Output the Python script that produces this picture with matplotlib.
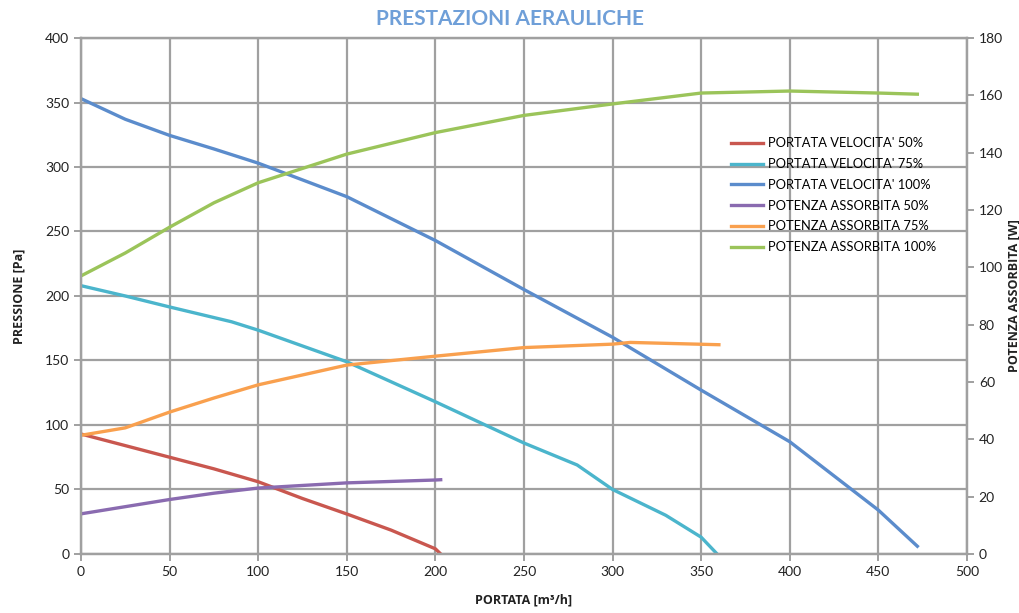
#grafico prestazioni aerauliche
import matplotlib
matplotlib.use('Agg')
import matplotlib.pyplot as plt

plt.rcParams['font.family'] = ['Lato', 'DejaVu Sans']

#dati
x_v50 = [0, 25, 50, 75, 100, 125, 150, 175, 200, 203]
p_v50 = [93, 84, 75, 66, 56, 43, 31, 18.5, 4, 0]

x_v75 = [0, 25, 50, 85, 100, 150, 200, 250, 280, 300, 330, 350, 359]
p_v75 = [208, 200, 191.5, 180, 173.5, 149, 118, 86, 69, 50, 30, 13, 0]

x_v100 = [0, 25, 50, 75, 100, 150, 200, 250, 300, 350, 400, 450, 472]
p_v100 = [353, 337, 324.5, 314, 303, 277, 243, 205, 168, 127, 87, 34, 6]

x_a50 = [0, 25, 50, 75, 100, 150, 200, 203]
w_a50 = [14, 16.5, 19, 21.2, 23, 24.8, 25.8, 25.9]

x_a75 = [0, 25, 50, 75, 100, 150, 200, 250, 300, 310, 360]
w_a75 = [41.4, 44, 49.5, 54.4, 59, 65.9, 69, 72, 73.2, 73.8, 73]

x_a100 = [0, 25, 50, 75, 100, 150, 200, 250, 300, 350, 400, 450, 472]
w_a100 = [97, 105, 114, 122.5, 129.5, 139.5, 147, 153, 157, 160.8, 161.5, 160.8, 160.4]

etichette = ["PORTATA VELOCITA' 50%", "PORTATA VELOCITA' 75%", "PORTATA VELOCITA' 100%",
             "POTENZA ASSORBITA 50%", "POTENZA ASSORBITA 75%", "POTENZA ASSORBITA 100%"]
colori = ['#c9574f', '#4bb5cc', '#5b8ccc', '#8a6bb0', '#f9a04e', '#9bc45a']

grigio = '#a0a0a0'
font_lab = ['Open Sans', 'DejaVu Sans']

fig = plt.figure(figsize=(10.2, 6.13), dpi=100)
ax = fig.add_axes([0.0794, 0.0963, 0.8686, 0.8417])
ax2 = ax.twinx()

lw = 2.4
linee = []
linee += ax.plot(x_v50, p_v50, color=colori[0], lw=lw)
linee += ax.plot(x_v75, p_v75, color=colori[1], lw=lw)
linee += ax.plot(x_v100, p_v100, color=colori[2], lw=lw)
linee += ax2.plot(x_a50, w_a50, color=colori[3], lw=lw)
linee += ax2.plot(x_a75, w_a75, color=colori[4], lw=lw)
linee += ax2.plot(x_a100, w_a100, color=colori[5], lw=lw)

#assi
ax.set_xlim(0, 500)
ax.set_ylim(0, 400)
ax2.set_ylim(0, 180)
ax.set_xticks(range(0, 501, 50))
ax.set_yticks(range(0, 401, 50))
ax2.set_yticks(range(0, 181, 20))
ax.grid(True, color=grigio, lw=1.6)
ax.set_axisbelow(True)

for a in (ax, ax2):
    for s in a.spines.values():
        s.set_color(grigio)
        s.set_linewidth(1.6)
    a.tick_params(colors=grigio, labelcolor='#222222', labelsize=10, width=1.4, length=5)

ax.set_xlabel('PORTATA [m³/h]', fontsize=9, fontweight='bold', labelpad=11, color='#222222', family=font_lab)
ax.set_ylabel('PRESSIONE [Pa]', fontsize=9, fontweight='bold', labelpad=14, color='#222222', family=font_lab)
ax2.set_ylabel('POTENZA ASSORBITA [W]', fontsize=9, fontweight='bold', labelpad=3, color='#222222', family=font_lab)

fig.suptitle('PRESTAZIONI AERAULICHE', x=0.5, y=0.985, fontsize=15, fontweight='bold', color='#6f9fd8')

fig.legend(linee, etichette, loc='upper left', bbox_to_anchor=(0.705, 0.795),
           frameon=False, fontsize=9.3, handlelength=2.5, labelspacing=0.68, handletextpad=0.35)

plt.savefig('out.png', dpi=100)
